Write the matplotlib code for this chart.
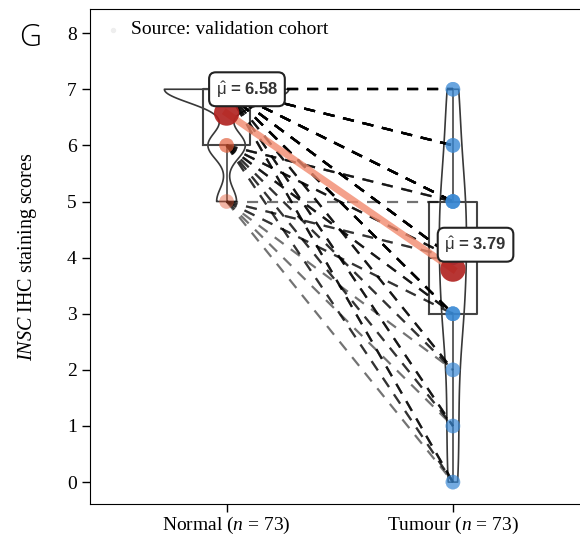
import numpy as np
import matplotlib
matplotlib.use("Agg")
from matplotlib import pyplot as plt

plt.rcParams['mathtext.fontset'] = 'custom'
plt.rcParams['mathtext.rm'] = 'Liberation Serif'
plt.rcParams['mathtext.it'] = 'Liberation Serif:italic'
plt.rcParams['mathtext.sf'] = 'Liberation Sans'
plt.rcParams['font.family'] = 'Liberation Serif'

# paired IHC scores, one entry per patient (n = 73)
normal = [7, 7, 7, 7, 7, 7, 7, 7, 7, 7, 7, 7, 7, 7, 7, 7, 7, 7, 7, 7,
          7, 7, 7, 7, 7, 7, 7, 7, 7, 7, 7, 7, 7, 7, 7, 7, 7, 7, 7, 7,
          7, 7, 7, 7, 7, 7, 7, 7, 7, 7,
          6, 6, 6, 6, 6, 6, 6, 6, 6, 6, 6, 6, 6, 6, 6,
          5, 5, 5, 5, 5, 5, 5, 5]
tumour = [7, 7, 7, 7, 7, 7, 7, 6, 6, 6, 6, 6, 6, 6, 6, 5, 5, 5, 5, 5,
          5, 5, 5, 5, 5, 4, 4, 4, 4, 4, 4, 4, 4, 4, 3, 3, 3, 3, 3, 3,
          3, 2, 2, 2, 1, 1, 1, 0, 0, 0,
          5, 5, 5, 4, 4, 4, 3, 3, 3, 2, 2, 1, 1, 0, 0,
          5, 4, 4, 3, 3, 2, 1, 0]
groups = ['Normal ($n$ = 73)', 'Tumour ($n$ = 73)']
positions = [1, 2]

normal = np.array(normal)
tumour = np.array(tumour)
means = [normal.mean(), tumour.mean()]

fig = plt.figure(figsize=(5.8, 5.36), dpi=100)
ax = fig.add_axes([0.155, 0.0597, 0.86, 0.9235])

# paired lines
for a, b in zip(normal, tumour):
    ax.plot([1, 2], [a, b], color='black', alpha=0.55, lw=1.6,
            linestyle=(0, (5, 4)), zorder=3)

# violins
for pos, data, w in zip(positions, [normal, tumour], [0.55, 0.12]):
    vp = ax.violinplot(data, positions=[pos], widths=w, showextrema=False,
                       bw_method=0.35)
    for body in vp['bodies']:
        body.set_facecolor('none')
        body.set_edgecolor('#222222')
        body.set_linewidth(1.2)
        body.set_alpha(0.9)
        body.set_zorder(2)

# boxes
ax.boxplot([normal, tumour], positions=positions, widths=0.21,
           showcaps=False, showfliers=False, patch_artist=False,
           boxprops=dict(color='#444444', lw=1.5),
           whiskerprops=dict(color='#444444', lw=1.2),
           medianprops=dict(color='#444444', lw=1.5), zorder=2)

# points
ax.scatter(np.full(len(normal), 1), normal, s=110, color='#e8603c',
           alpha=0.07, edgecolor='none', zorder=4)
ax.scatter(np.full(len(tumour), 2), tumour, s=110, color='#3a8ad6',
           alpha=0.18, edgecolor='none', zorder=4)

# means
ax.plot(positions, means, color='#f28a6e', lw=5, alpha=0.8, zorder=5)
ax.scatter(positions, means, s=330, color='#b0201e', alpha=0.9,
           edgecolor='none', zorder=6)
label_pos = [(1.09, 7.0), (2.1, 4.23)]
for (lx, ly), m in zip(label_pos, means):
    ax.text(lx, ly, r'$\hat{\mathsf{\mu}}$' + ' = %.2f' % m, fontsize=12,
            family='Liberation Sans', weight='bold', color='#333333',
            ha='center', va='center', zorder=8,
            bbox=dict(boxstyle='round,pad=0.4', fc='white', ec='#222222',
                      lw=1.5))

ax.text(0.082, 0.958, 'Source: validation cohort', transform=ax.transAxes,
        fontsize=14, va='center', ha='left')
ax.scatter([0.047], [0.958], transform=ax.transAxes, s=8, color='#eeeeee')

ax.set_xlim(0.396, 2.6)
ax.set_ylim(-0.39, 8.43)
ax.set_xticks(positions)
ax.set_xticklabels(groups, fontsize=13.5)
ax.set_yticks(range(9))
ax.tick_params(labelsize=14, length=6, width=1)
ax.tick_params(axis='x', pad=2)
ax.spines['right'].set_visible(False)
ax.set_ylabel(r'$\mathit{INSC}$ IHC staining scores', fontsize=14.5,
              labelpad=20)

fig.text(0.033, 0.93, 'G', fontsize=22, family='Open Sans', weight='light',
         ha='left', va='center')

plt.savefig('out.png')
